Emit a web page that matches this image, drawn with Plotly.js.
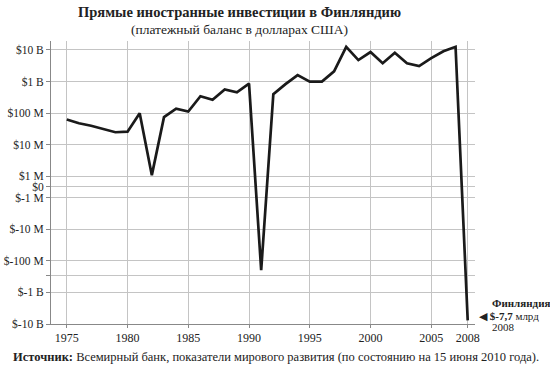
<!DOCTYPE html>
<html><head><meta charset="utf-8">
<script src="https://cdn.plot.ly/plotly-3.0.1.min.js"></script>
<style>body{margin:0;background:#fff}#c{width:550px;height:370px}</style>
</head><body><div id="c"></div>
<script>
const years = [1975,1976,1977,1978,1979,1980,1981,1982,1983,1984,1985,1986,1987,1988,1989,1990,1991,1992,1993,1994,1995,1996,1997,1998,1999,2000,2001,2002,2003,2004,2005,2006,2007,2008];
const fdiUSD = [63e6,48e6,40e6,31e6,25e6,26e6,100e6,1.1e6,75e6,140e6,113e6,345e6,265e6,560e6,460e6,865e6,-200e6,400e6,830e6,1.6e9,1.0e9,1.0e9,2.1e9,12.6e9,4.8e9,8.6e9,3.8e9,8.2e9,3.8e9,3.1e9,5.5e9,9.1e9,12.6e9,-7.7e9];
const yTickValues = [1e10,1e9,1e8,1e7,1e6,0,-1e6,-1e7,-1e8,-3e8,-1e9,-1e10];
const yTickLabels = ['$10 B','$1 B','$100 M','$10 M','$1 M','$0','$-1 M','$-10 M','$-100 M','','$-1 B','$-10 B'];
const xTickValues = [1975,1980,1985,1990,1995,2000,2005,2008];

// symmetric log transform (linear band between -1M and 1M)
function symlog(v){
  const a = Math.abs(v), c = 1/3;
  if (a < 1e6) return v/1e6*c;
  return Math.sign(v)*(Math.log10(a/1e6)+c);
}
const serif = '"Liberation Serif", "Times New Roman", serif';
const trace = {
  x: years, y: fdiUSD.map(symlog), type:'scatter', mode:'lines',
  line:{color:'#1a1a1a', width:2.7}, hoverinfo:'skip'
};
const layout = {
  width:550, height:370,
  margin:{l:51, r:75, t:41, b:46},
  paper_bgcolor:'#fff', plot_bgcolor:'#fff',
  showlegend:false,
  font:{family:serif, size:12, color:'#222'},
  xaxis:{range:[1973.7,2008.6], tickvals:xTickValues, ticktext:xTickValues.map(String),
    showgrid:true, gridcolor:'#c4c4c4', gridwidth:1, zeroline:false,
    showline:true, linecolor:'#888', linewidth:1, ticks:'outside', ticklen:3, tickcolor:'#888',
    tickfont:{family:serif, size:12, color:'#222'}, fixedrange:true},
  yaxis:{range:[-4.3333, 4.617], tickvals:yTickValues.map(symlog), ticktext:yTickLabels,
    showgrid:true, gridcolor:'#c4c4c4', gridwidth:1, zeroline:false,
    showline:true, linecolor:'#888', linewidth:1, ticks:'outside', ticklen:4, tickcolor:'#888',
    tickfont:{family:serif, size:11.5, color:'#222'}, fixedrange:true},
  annotations:[
    {xref:'paper', yref:'paper', x:(239-51)/424, y:1+(41-12)/283, xanchor:'center', yanchor:'middle',
      text:'<b>Прямые иностранные инвестиции в Финляндию</b>', showarrow:false, font:{family:serif, size:14.5, color:'#222'}},
    {xref:'paper', yref:'paper', x:(239-51)/424, y:1+(41-30)/283, xanchor:'center', yanchor:'middle',
      text:'(платежный баланс в долларах США)', showarrow:false, font:{family:serif, size:13.5, color:'#222'}},
    {xref:'paper', yref:'paper', x:(490-51)/424, y:(324-303)/283, xanchor:'left', yanchor:'middle',
      text:'<b>Финляндия</b>', showarrow:false, font:{family:serif, size:11, color:'#222'}},
    {xref:'paper', yref:'paper', x:(477-51)/424, y:(324-315.5)/283, xanchor:'left', yanchor:'middle',
      text:'◀ <b>$-7,7</b> млрд', showarrow:false, font:{family:serif, size:11, color:'#222'}},
    {xref:'paper', yref:'paper', x:(490-51)/424, y:(324-327)/283, xanchor:'left', yanchor:'middle',
      text:'2008', showarrow:false, font:{family:serif, size:11, color:'#222'}},
    {xref:'paper', yref:'paper', x:(11-51)/424, y:(324-357)/283, xanchor:'left', yanchor:'middle',
      text:'<b>Источник:</b> Всемирный банк, показатели мирового развития (по состоянию на 15 июня 2010 года).',
      showarrow:false, font:{family:serif, size:12.5, color:'#222'}}
  ]
};
Plotly.newPlot('c',[trace],layout,{displayModeBar:false, staticPlot:true});
</script></body></html>
